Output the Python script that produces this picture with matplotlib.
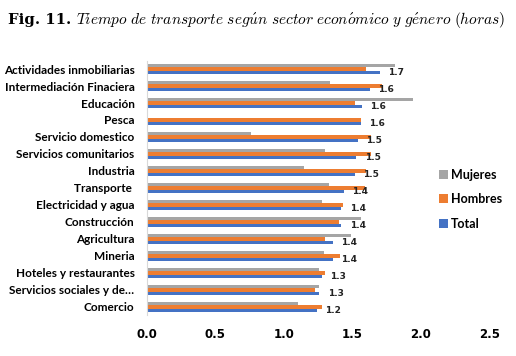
import numpy as np
import matplotlib.pyplot as plt

plt.rcParams['mathtext.fontset'] = 'cm'

SECTORES = ['Actividades inmobiliarias', 'Intermediación Finaciera', 'Educación', 'Pesca',
            'Servicio domestico', 'Servicios comunitarios', 'Industria', 'Transporte ',
            'Electricidad y agua', 'Construcción', 'Agricultura', 'Mineria',
            'Hoteles y restaurantes', 'Servicios sociales y de…', 'Comercio']
MUJERES = [1.81, 1.34, 1.94, 0.0, 0.76, 1.30, 1.15, 1.33, 1.28, 1.56, 1.49, 1.29, 1.26, 1.26, 1.10]
HOMBRES = [1.60, 1.72, 1.52, 1.56, 1.64, 1.64, 1.60, 1.59, 1.43, 1.40, 1.30, 1.41, 1.30, 1.23, 1.28]
TOTAL = [1.70, 1.63, 1.57, 1.56, 1.54, 1.53, 1.52, 1.44, 1.42, 1.42, 1.36, 1.36, 1.28, 1.26, 1.24]

C_MUJ = '#A5A5A5'
C_HOM = '#ED7D31'
C_TOT = '#4472C4'

fig = plt.figure(figsize=(5.16, 3.56), dpi=100)
ax = fig.add_axes([0.285, 0.114, 0.663, 0.716])

y = np.arange(len(SECTORES))
h = 0.2
ax.barh(y - h, MUJERES, height=h, color=C_MUJ, label='Mujeres')
ax.barh(y, HOMBRES, height=h, color=C_HOM, label='Hombres')
ax.barh(y + h, TOTAL, height=h, color=C_TOT, label='Total')

for yi, v in zip(y, TOTAL):
    ax.text(v + 0.06, yi + 0.2, f'{v:.1f}', va='center', ha='left',
            fontsize=6.5, fontweight='bold', family='DejaVu Sans', color='#222222')

ax.set_xlim(0, 2.5)
ax.set_ylim(len(SECTORES) - 0.5, -0.5)
ax.set_yticks(y)
ax.set_yticklabels(SECTORES, fontsize=8.5, fontweight='bold', family='Lato')
ax.set_xticks([0, 0.5, 1.0, 1.5, 2.0, 2.5])
ax.set_xticklabels(['0.0', '0.5', '1.0', '1.5', '2.0', '2.5'], fontsize=8.5,
                   fontweight='bold', family='DejaVu Sans')
ax.tick_params(length=0)
ax.tick_params(axis='x', pad=9)
ax.tick_params(axis='y', pad=9)
for s in ['top', 'right', 'bottom']:
    ax.spines[s].set_visible(False)
ax.spines['left'].set_color('#D9D9D9')
ax.spines['left'].set_linewidth(0.8)

leg = ax.legend(loc='upper left', bbox_to_anchor=(0.82, 0.62), frameon=False,
                handlelength=0.7, handleheight=0.7, handletextpad=0.3,
                labelspacing=1.0, prop={'family': 'Lato', 'weight': 'bold', 'size': 9})

fig.text(0.015, 0.945, 'Fig. 11.', family='DejaVu Serif', fontweight='bold',
         fontsize=10.7, ha='left', va='center')
fig.text(0.147, 0.945,
         r'$\mathit{Tiempo\ de\ transporte\ seg\acute{u}n\ sector\ econ\acute{o}mico\ y\ g\acute{e}nero\ (horas)}$',
         fontsize=11.1, ha='left', va='center')

fig.savefig('out.png', dpi=100)
